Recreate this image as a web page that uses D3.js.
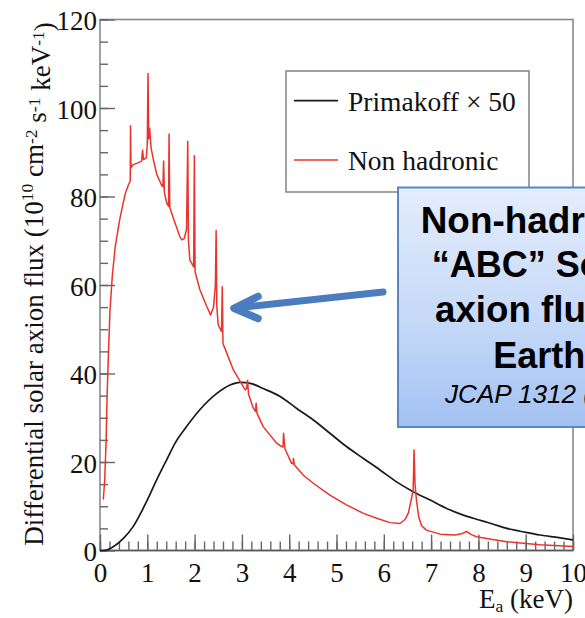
<!DOCTYPE html>
<html>
<head>
<meta charset="utf-8">
<script src="https://cdn.jsdelivr.net/npm/d3@7"></script>
<style>
html,body{margin:0;padding:0;background:#fff;}
svg{display:block;}
</style>
</head>
<body>
<svg id="chart" width="585" height="618"></svg>
<script>
// ---- data ----
const xTicks = [0,1,2,3,4,5,6,7,8,9,10];
const yTicks = [0,20,40,60,80,100,120];
const seriesNames = ["Primakoff \u00d7 50", "Non hadronic"];

// Primakoff x 50 (E keV, flux)
const primakoffE = [0,0.1,0.28,0.5,0.7,1.0,1.2,1.41,1.6,1.83,2.11,2.47,2.75,2.96,3.2,3.45,3.81,4.16,4.51,4.86,5.21,5.57,5.92,6.27,6.62,6.98,7.33,7.68,7.89,8.3,8.6,9.0,9.3,9.7,10];
const primakoffF = [0,0.05,0.86,2.8,5.4,11.4,16,20.5,24.5,28,31.8,35.5,37.4,38.0,37.7,36.6,34.8,32.1,29.5,26.5,23.5,20.8,18.2,15.5,13.3,11.4,9.5,8.0,7.3,6.0,5.0,4.1,3.5,2.9,2.4];

// Non hadronic (E keV, flux)
const nonHadE = [0.07,0.1,0.13,0.15,0.18,0.21,0.26,0.32,0.42,0.53,0.6,0.64,0.645,0.655,0.7,0.8,0.88,0.9,0.92,0.98,1.0,1.015,1.03,1.05,1.08,1.13,1.2,1.3,1.33,1.345,1.36,1.41,1.45,1.46,1.475,1.59,1.69,1.73,1.78,1.83,1.855,1.87,1.9,1.94,1.98,1.995,2.01,2.11,2.26,2.34,2.4,2.44,2.455,2.47,2.5,2.57,2.585,2.6,2.68,2.82,2.96,3.07,3.1,3.12,3.14,3.24,3.29,3.3,3.32,3.45,3.74,3.84,3.87,3.88,3.91,4.05,4.08,4.09,4.11,4.3,4.51,4.86,5.21,5.57,5.85,6.13,6.34,6.45,6.52,6.58,6.62,6.64,6.66,6.69,6.74,6.8,6.9,7.19,7.5,7.65,7.75,7.85,7.96,8.3,8.6,9.0,9.3,9.7,10];
const nonHadF = [11.5,16,25,35,45,54,62,68.5,75,80.5,82.6,83.5,96,86.5,87.2,87.6,88,90.5,88.3,88.8,92,107.8,93,95.4,91,88.2,85,82.6,82.2,88,81,78.5,77.8,94.1,77.5,73.9,70.9,70.2,70.5,72.5,92.5,70,65.6,64.9,64.1,89.2,63,59,55.1,53.2,55,60,72.3,55,51,49.5,59.6,46.8,44.6,40.8,38.3,36.3,36.6,38.5,35.3,32.2,31.4,33.3,31.0,28,24.2,23.5,23.4,26.5,23.0,19.7,19.6,20.8,19.3,17.0,15.2,12.5,10.3,8.4,7.3,6.3,6.1,7,8.5,11.5,13.5,22.7,15,11.4,7.5,5.6,4.6,3.7,3.5,3.8,4.3,3.6,3.1,2.5,2.0,1.6,1.3,1.05,0.9];

const calloutLines = ["Non-hadronic", "\u201cABC\u201d Solar", "axion flux at", "Earth"];
const calloutRef = "JCAP 1312 (2013) 008";

// ---- drawing ----
const svg = d3.select("#chart");
const x = d3.scaleLinear().domain([0,10]).range([100,573]);
const y = d3.scaleLinear().domain([0,120]).range([550.5,19.5]);
const serif = "'Liberation Serif','Times New Roman',serif";
const sans = "'Liberation Sans',Arial,sans-serif";

// frame
svg.append("rect").attr("x",100).attr("y",19.5).attr("width",473).attr("height",531)
  .attr("fill","none").attr("stroke","#8a8a8a").attr("stroke-width",1.6);
svg.append("line").attr("x1",100).attr("x2",573).attr("y1",550.5).attr("y2",550.5)
  .attr("stroke","#555").attr("stroke-width",1.6);

// x axis minor
const gxm = svg.append("g").attr("transform","translate(0,550.5)")
  .call(d3.axisBottom(x).tickValues(d3.range(0,10.001,0.2)).tickSize(-9).tickFormat(""));
// x axis major
const gx = svg.append("g").attr("transform","translate(0,550.5)")
  .call(d3.axisBottom(x).tickValues(xTicks).tickSize(-16).tickFormat(d3.format("d")));
// y axis minor
const gym = svg.append("g").attr("transform","translate(100,0)")
  .call(d3.axisLeft(y).tickValues(d3.range(0,120.001,5)).tickSize(-8).tickFormat(""));
// y axis major
const gy = svg.append("g").attr("transform","translate(100,0)")
  .call(d3.axisLeft(y).tickValues(yTicks).tickSize(-15).tickFormat(d3.format("d")));

[gxm,gx,gym,gy].forEach(g=>{
  g.select(".domain").remove();
  g.selectAll(".tick line").attr("stroke","#666").attr("stroke-width",1.4);
});
gx.selectAll(".tick text").attr("y",31).attr("dy",0)
  .attr("font-family",serif).attr("font-size",27).attr("fill","#111");
gy.selectAll(".tick text").attr("x",-3).attr("dy",10)
  .attr("font-family",serif).attr("font-size",27).attr("fill","#111");

// curves
const primData = primakoffE.map((e,i)=>[e,primakoffF[i]]);
const nhData = nonHadE.map((e,i)=>[e,nonHadF[i]]);
svg.append("path").datum(primData)
  .attr("d",d3.line().x(d=>x(d[0])).y(d=>y(d[1])).curve(d3.curveMonotoneX))
  .attr("fill","none").attr("stroke","#1a1a1a").attr("stroke-width",1.7);
svg.append("path").datum(nhData)
  .attr("d",d3.line().x(d=>x(d[0])).y(d=>y(d[1])))
  .attr("fill","none").attr("stroke","#e8342c").attr("stroke-width",1.5).attr("stroke-linejoin","round");

// axis titles
const yt = svg.append("text").attr("transform","translate(43,284) rotate(-90)")
  .attr("text-anchor","middle").attr("font-family",serif).attr("font-size",27).attr("fill","#111");
yt.append("tspan").text("Differential solar axion flux (10");
yt.append("tspan").attr("font-size","0.65em").attr("dy","-0.55em").text("10");
yt.append("tspan").attr("dy","0.36em").text(" cm");
yt.append("tspan").attr("font-size","0.65em").attr("dy","-0.36em").text("-2");
yt.append("tspan").attr("dy","0.36em").text(" s");
yt.append("tspan").attr("font-size","0.65em").attr("dy","-0.36em").text("-1");
yt.append("tspan").attr("dy","0.36em").text(" keV");
yt.append("tspan").attr("font-size","0.65em").attr("dy","-0.36em").text("-1");
yt.append("tspan").attr("dy","0.36em").text(")");

const xt = svg.append("text").attr("x",573).attr("y",608).attr("text-anchor","end")
  .attr("font-family",serif).attr("font-size",27).attr("fill","#111");
xt.append("tspan").text("E");
xt.append("tspan").attr("font-size","0.65em").attr("dy","0.25em").text("a");
xt.append("tspan").attr("dy","-0.16em").text(" (keV)");

// legend
svg.append("rect").attr("x",286).attr("y",71).attr("width",243).attr("height",121)
  .attr("fill","#fff").attr("stroke","#8a8a8a").attr("stroke-width",1.6);
const legColors = ["#1a1a1a","#e8342c"];
const legY = [100.7,160];
seriesNames.forEach((n,i)=>{
  svg.append("line").attr("x1",294).attr("x2",338).attr("y1",legY[i]).attr("y2",legY[i])
    .attr("stroke",legColors[i]).attr("stroke-width",1.7);
  svg.append("text").attr("x",348).attr("y",legY[i]+10).attr("font-family",serif)
    .attr("font-size",27.5).attr("fill","#111").text(n);
});

// callout box
const defs = svg.append("defs");
const grad = defs.append("linearGradient").attr("id","cg").attr("x1",0).attr("y1",0).attr("x2",0).attr("y2",1);
grad.append("stop").attr("offset","0%").attr("stop-color","#e4edfc");
grad.append("stop").attr("offset","55%").attr("stop-color","#c6d9f8");
grad.append("stop").attr("offset","100%").attr("stop-color","#a2c1f2");
svg.append("rect").attr("x",398).attr("y",187.5).attr("width",200).attr("height",239.5)
  .attr("fill","url(#cg)").attr("stroke","#5b87c4").attr("stroke-width",2);
const cy = [233,277,322,368];
const cx = [420.7,431.7,435,493.3];
const cw = [240,214,214,92];
calloutLines.forEach((t,i)=>{
  svg.append("text").attr("x",cx[i]).attr("y",cy[i])
    .attr("textLength",cw[i]).attr("lengthAdjust","spacingAndGlyphs")
    .attr("font-family",sans).attr("font-weight","bold").attr("font-size",36).attr("fill","#000").text(t);
});
svg.append("text").attr("x",445).attr("y",403).attr("font-family",sans).attr("font-style","italic")
  .attr("textLength",264.5).attr("lengthAdjust","spacingAndGlyphs")
  .attr("font-size",26).attr("fill","#000").text(calloutRef);

// arrow
const arrowColor = "#4a7cbf";
svg.append("line").attr("x1",383).attr("y1",292).attr("x2",236).attr("y2",308)
  .attr("stroke",arrowColor).attr("stroke-width",7).attr("stroke-linecap","round");
svg.append("path").attr("d","M258,296.5 L234,308.3 L258,318.5")
  .attr("fill","none").attr("stroke",arrowColor).attr("stroke-width",7.5)
  .attr("stroke-linecap","round").attr("stroke-linejoin","round");
</script>
</body>
</html>
